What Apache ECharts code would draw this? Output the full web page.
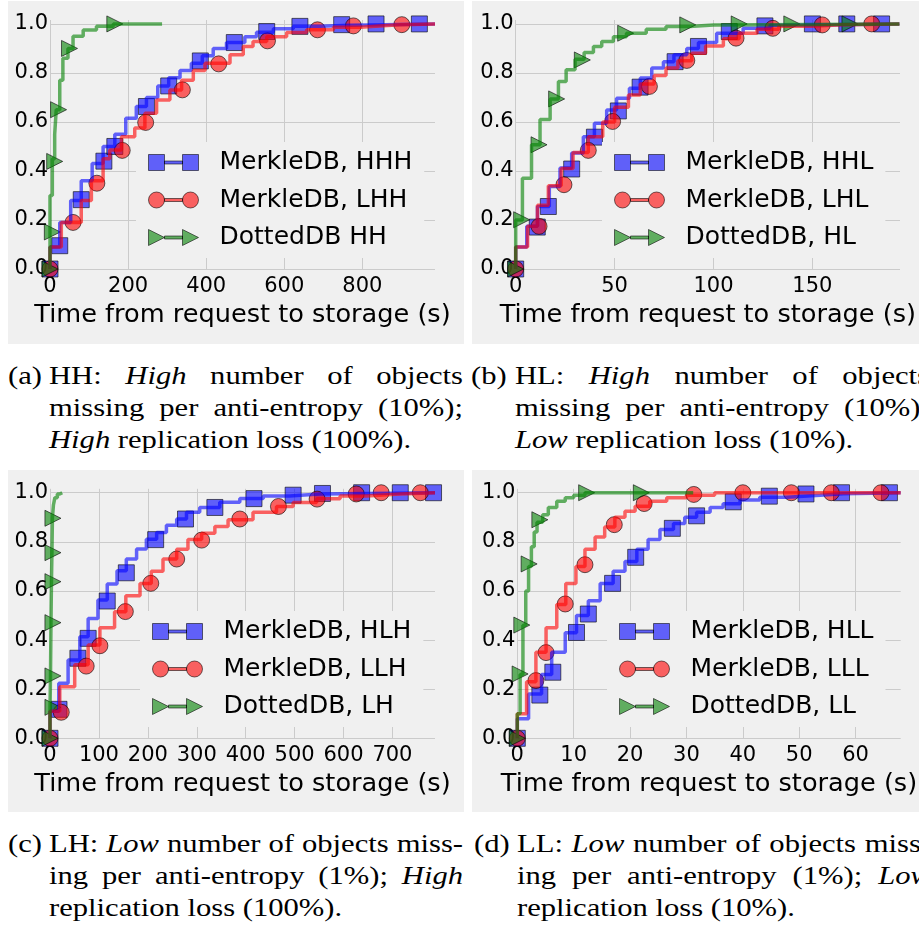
<!DOCTYPE html>
<html>
<head>
<meta charset="utf-8">
<script src="https://cdn.jsdelivr.net/npm/echarts@6/dist/echarts.min.js"></script>
<style>
  html, body { margin: 0; padding: 0; background: #fff; width: 919px; height: 936px; overflow: hidden; }
  body { position: relative; }
  .panel { position: absolute; background: #f0f0f0; width: 456px; }
  .cap { position: absolute; font-family: "Liberation Serif", serif; font-size: 25.5px; line-height: 32px; color: #000; }
  .cap .lab { position: absolute; left: 0; top: 0; white-space: nowrap; transform: scaleX(1.2); transform-origin: left top; }
  .cap .txt { position: absolute; top: 0; width: 345px; transform: scaleX(1.2); transform-origin: left top; }
  .cap .j { text-align: justify; text-align-last: justify; }
</style>
</head>
<body>
<div id="pa" class="panel" style="left:8px; top:1px; height:343px;"></div>
<div id="pb" class="panel" style="left:472px; top:1px; height:343px;"></div>
<div id="pc" class="panel" style="left:8px; top:470px; height:342px;"></div>
<div id="pd" class="panel" style="left:472px; top:470px; height:342px;"></div>

<div class="cap" style="left:8px; top:360px;">
  <div class="lab">(a)</div>
  <div class="txt" style="left:41px;">
    <div class="j">HH: <i>High</i> number of objects</div>
    <div class="j">missing per anti-entropy (10%);</div>
    <div><i>High</i> replication loss (100%).</div>
  </div>
</div>
<div class="cap" style="left:471px; top:360px;">
  <div class="lab">(b)</div>
  <div class="txt" style="left:44px;">
    <div class="j">HL: <i>High</i> number of objects</div>
    <div class="j">missing per anti-entropy (10%);</div>
    <div><i>Low</i> replication loss (10%).</div>
  </div>
</div>
<div class="cap" style="left:8px; top:828px;">
  <div class="lab">(c)</div>
  <div class="txt" style="left:41px;">
    <div class="j">LH: <i>Low</i> number of objects miss-</div>
    <div class="j">ing per anti-entropy (1%); <i>High</i></div>
    <div>replication loss (100%).</div>
  </div>
</div>
<div class="cap" style="left:474px; top:828px;">
  <div class="lab">(d)</div>
  <div class="txt" style="left:43px;">
    <div class="j">LL: <i>Low</i> number of objects miss-</div>
    <div class="j">ing per anti-entropy (1%); <i>Low</i></div>
    <div>replication loss (10%).</div>
  </div>
</div>

<script>
// ---- data: [time (s), cumulative fraction] ----
// (a) HH
const stepsHHH = [[0,0],[0,0.09],[25,0.19],[53,0.28],[80,0.36],[108,0.43],[136,0.50],[166,0.55],[194,0.615],[221,0.663],[247,0.70],[276,0.747],[304,0.78],[333,0.81],[362,0.84],[390,0.87],[418,0.90],[452,0.924],[499,0.948],[529,0.966],[572,0.98],[623,0.99],[691,0.995],[768,1.0],[986,1.0]];
const marksHHH = [[0,0],[25,0.095],[80,0.283],[138,0.44],[166,0.50],[247,0.663],[304,0.747],[385,0.849],[472,0.924],[555,0.969],[640,0.99],[747,0.997],[835,1.0],[946,1.0]];
const stepsLHH = [[0,0],[0,0.09],[29,0.19],[80,0.28],[106,0.36],[136,0.45],[153,0.486],[183,0.54],[217,0.575],[243,0.636],[273,0.69],[307,0.73],[337,0.77],[367,0.81],[397,0.84],[461,0.874],[495,0.908],[520,0.928],[555,0.948],[606,0.965],[657,0.976],[726,0.986],[794,0.993],[854,0.997],[897,1.0],[986,1.0]];
const marksLHH = [[0,0],[59,0.19],[120,0.35],[185,0.484],[245,0.598],[339,0.731],[432,0.837],[557,0.931],[685,0.976],[777,0.992],[901,0.997]];
const stepsDHH = [[0,0],[0,0.3],[6,0.45],[12,0.55],[16,0.65],[25,0.77],[33,0.86],[46,0.9],[59,0.95],[85,0.975],[119,0.99],[162,1.0],[287,1.0]];
const marksDHH = [[0,0],[6,0.151],[12,0.439],[22,0.65],[50,0.90],[166,1.0]];
// (b) HL
const stepsHHL = [[0,0],[0,0.09],[5.6,0.174],[11,0.255],[17,0.337],[22.4,0.412],[28.3,0.473],[34.2,0.54],[39.8,0.595],[46,0.649],[51,0.697],[57.5,0.738],[63,0.779],[68.8,0.82],[74.7,0.846],[80,0.874],[86.5,0.90],[92.4,0.924],[101.6,0.962],[115,0.982],[128.6,0.995],[140,1.0],[194,1.0]];
const marksHHL = [[0,0],[10.9,0.171],[16.5,0.255],[28.3,0.408],[39.8,0.538],[51.9,0.645],[62.9,0.742],[80.6,0.846],[92.4,0.908],[108,0.969],[126,0.992],[150,1],[167.4,1],[185,1]];
const stepsLHL = [[0,0],[0,0.09],[6,0.174],[11,0.26],[16.5,0.34],[23,0.41],[29,0.475],[36.7,0.54],[44,0.6],[50,0.66],[57,0.71],[63,0.755],[70,0.79],[76,0.82],[82,0.85],[89,0.88],[96,0.91],[105,0.94],[113,0.962],[122,0.978],[133,0.99],[150,0.997],[165,1.0],[194,1.0]];
const marksLHL = [[0,0],[11.8,0.174],[24.4,0.344],[36.7,0.484],[49,0.602],[67.6,0.745],[86.5,0.851],[111.4,0.942],[130,0.982],[155,0.996],[180,1]];
const stepsDHL = [[0,0],[0,0.2],[3.4,0.37],[8,0.507],[12.3,0.61],[17.4,0.694],[21.6,0.765],[25.5,0.8125],[30,0.856],[34.6,0.883],[39.3,0.908],[43.5,0.928],[49.4,0.948],[56,0.962],[66,0.978],[76,0.989],[88,0.996],[100,1.0],[194,1.0]];
const marksDHL = [[0,0],[3,0.201],[11.8,0.507],[20.7,0.694],[33.7,0.853],[55.6,0.962],[87,0.996],[113,1],[139.6,1],[169,1]];
// (c) LH
const stepsHLH = [[0,0],[0,0.11],[18,0.224],[37,0.319],[61,0.414],[78,0.488],[98,0.563],[117,0.628],[137,0.682],[156,0.73],[177,0.771],[197,0.811],[218,0.838],[238,0.868],[259,0.893],[279,0.92],[306,0.94],[347,0.961],[388,0.976],[436,0.987],[490,0.995],[551,1.0],[787,1.0]];
const marksHLH = [[0,0],[18.4,0.118],[57,0.326],[78,0.407],[117,0.559],[156,0.674],[216,0.809],[277,0.893],[337,0.94],[417,0.976],[497,0.99],[557,0.997],[637,1],[716,1],[784,1]];
const stepsLLH = [[0,0],[0,0.11],[20,0.21],[50.5,0.3],[78,0.38],[102,0.45],[132,0.515],[155,0.58],[184,0.63],[207,0.68],[231,0.73],[259,0.77],[282,0.81],[310,0.835],[337,0.862],[364,0.89],[415,0.92],[463,0.944],[497,0.96],[545,0.975],[593,0.987],[647,0.995],[716,1.0],[787,1.0]];
const marksLLH = [[0,0],[23,0.106],[74,0.294],[102,0.377],[154,0.516],[206,0.631],[259,0.73],[310,0.807],[388,0.893],[467,0.944],[546,0.974],[626,0.995],[677,1],[757,1]];
const stepsDLH = [[0,0],[0,0.12],[1,0.25],[2,0.47],[3,0.64],[4,0.76],[5,0.9],[7,0.95],[10,0.98],[15,0.995],[20,1.0],[25,1.0]];
const marksDLH = [[0,0],[6,0.126],[6,0.254],[6,0.471],[6,0.638],[6,0.756],[6,0.896]];
// (d) LL
const stepsHLL = [[0,0],[0,0.08],[2,0.18],[4.3,0.26],[6.1,0.35],[8.5,0.43],[10.5,0.5],[12.6,0.56],[14.7,0.63],[17,0.68],[19.1,0.72],[21.2,0.77],[23.2,0.81],[25.3,0.85],[27.7,0.875],[29.7,0.9],[31.8,0.92],[34.2,0.94],[36.5,0.955],[39.5,0.97],[43,0.982],[47.8,0.99],[53.7,0.996],[57.8,1.0],[68,1.0]];
const marksHLL = [[0,0],[4,0.176],[6.3,0.269],[10.5,0.431],[12.6,0.506],[16.9,0.631],[21,0.737],[27.5,0.855],[31.8,0.906],[38.3,0.963],[44.7,0.986],[51.2,0.995],[57.5,1],[66,1]];
const stepsLLL = [[0,0],[0,0.1],[1.65,0.23],[3.3,0.35],[5.1,0.45],[7,0.545],[8.6,0.63],[10.4,0.7],[12,0.77],[13.8,0.82],[15.5,0.86],[17.3,0.9],[19.1,0.925],[20.9,0.945],[23.5,0.965],[26.5,0.98],[30,0.99],[35,1.0],[68,1.0]];
const marksLLL = [[0,0],[3.3,0.235],[5.1,0.349],[8.5,0.547],[12,0.707],[17.2,0.87],[22.5,0.956],[31.3,0.993],[40,1],[48.6,1],[55.7,1],[64.5,1]];
const stepsDLL = [[0,0],[0,0.1],[0.5,0.26],[1,0.46],[1.5,0.6],[2,0.7],[2.5,0.78],[3,0.84],[3.5,0.88],[4.5,0.91],[5.5,0.94],[7,0.965],[8.5,0.98],[10,0.99],[12,1.0],[31.2,1.0]];
const marksDLL = [[0,0],[0.5,0.262],[0.8,0.461],[2.1,0.71],[4,0.89],[12.3,1],[22,1]];

const namesA = ['MerkleDB, HHH', 'MerkleDB, LHH', 'DottedDB HH'];
const namesB = ['MerkleDB, HHL', 'MerkleDB, LHL', 'DottedDB, HL'];
const namesC = ['MerkleDB, HLH', 'MerkleDB, LLH', 'DottedDB, LH'];
const namesD = ['MerkleDB, HLL', 'MerkleDB, LLL', 'DottedDB, LL'];

const xLabel = 'Time from request to storage (s)';
const FONT = 'DejaVu Sans';

// one style per curve slot: blue squares, red circles, green triangles
const looks = [
  { color: '#0000ff', fill: 'rgba(0,0,255,0.6)', symbol: 'rect', rotate: 0,
    icon: 'path://M0,0H16V16H0Z M16,6.5H34V9.5H16Z M34,0H50V16H34Z' },
  { color: '#ff0000', fill: 'rgba(255,0,0,0.6)', symbol: 'circle', rotate: 0,
    icon: 'path://M0,8A8,8,0,1,1,16,8A8,8,0,1,1,0,8Z M16,6.5H34V9.5H16Z M34,8A8,8,0,1,1,50,8A8,8,0,1,1,34,8Z' },
  { color: '#008000', fill: 'rgba(0,128,0,0.6)', symbol: 'triangle', rotate: -90,
    icon: 'path://M0,0L16,8L0,16Z M16,6.5H34V9.5H16Z M34,0L50,8L34,16Z' }
];

function onTick(v, step) {
  const k = v / step;
  return Math.abs(k - Math.round(k)) < 1e-6;
}

function drawPanel(id, names, curves, xMax, xStep, grid, legendPos) {
  const series = [];
  curves.forEach(function (c, i) {
    const lk = looks[i];
    series.push({
      name: names[i], type: 'line', step: 'end', data: c[0],
      symbol: 'none', showSymbol: false, silent: true,
      lineStyle: { color: lk.color, width: 3.5, opacity: 0.6 },
      itemStyle: { color: lk.color }
    });
    series.push({
      name: names[i], type: 'scatter', data: c[1], clip: false, silent: true,
      symbol: lk.symbol, symbolRotate: lk.rotate, symbolSize: 16,
      itemStyle: { color: lk.color, opacity: 0.6, borderColor: '#000', borderWidth: 1 }
    });
  });

  const chart = echarts.init(document.getElementById(id), null, { renderer: 'canvas' });
  chart.setOption({
    animation: false,
    grid: Object.assign({ outerBoundsMode: 'none', containLabel: false }, grid),
    legend: {
      orient: 'vertical', left: legendPos[0], top: legendPos[1],
      padding: [8, 12, 8, 12], itemGap: 12.5, itemWidth: 50, itemHeight: 17,
      backgroundColor: '#f0f0f0', selectedMode: false,
      textStyle: { fontFamily: FONT, fontSize: 25, color: '#000', lineHeight: 25, padding: [0, 0, 0, 16] },
      data: names.map(function (n, i) {
        return { name: n, icon: looks[i].icon,
          itemStyle: { color: looks[i].fill, borderColor: 'rgba(0,0,0,0.55)', borderWidth: 1 } };
      })
    },
    xAxis: {
      type: 'value', min: 0, max: xMax, interval: xStep,
      name: xLabel, nameLocation: 'middle', nameGap: 30,
      nameTextStyle: { fontFamily: FONT, fontSize: 25.6, color: '#000' },
      axisLine: { show: false }, axisTick: { show: false },
      splitLine: { show: true, showMaxLine: false, lineStyle: { color: '#cbcbcb', width: 1 } },
      axisLabel: { fontFamily: FONT, fontSize: 21, color: '#000', margin: 7,
        formatter: function (v) { return onTick(v, xStep) ? String(v) : ''; } }
    },
    yAxis: {
      type: 'value', min: 0, max: 1.016, interval: 0.2,
      axisLine: { show: false }, axisTick: { show: false },
      splitLine: { show: true, showMaxLine: false, lineStyle: { color: '#cbcbcb', width: 1 } },
      axisLabel: { fontFamily: FONT, fontSize: 21, color: '#000', margin: 2,
        formatter: function (v) { return onTick(v, 0.2) ? v.toFixed(1) : ''; } }
    },
    series: series
  });
}

drawPanel('pa', namesA, [[stepsHHH, marksHHH], [stepsLHH, marksLHH], [stepsDHH, marksDHH]],
  986, 200, { left: 42, right: 29, top: 19, bottom: 75 }, [128, 141]);
drawPanel('pb', namesB, [[stepsHHL, marksHHL], [stepsLHL, marksLHL], [stepsDHL, marksDHL]],
  194.3, 50, { left: 43.7, right: 28, top: 19, bottom: 75 }, [130, 141]);
drawPanel('pc', namesC, [[stepsHLH, marksHLH], [stepsLLH, marksLLH], [stepsDLH, marksDLH]],
  787, 100, { left: 42, right: 29, top: 18.8, bottom: 73.7 }, [132, 141]);
drawPanel('pd', namesD, [[stepsHLL, marksHLL], [stepsLLL, marksLLL], [stepsDLL, marksDLL]],
  68, 10, { left: 45.3, right: 27.3, top: 18.8, bottom: 73.7 }, [135, 141]);
</script>
</body>
</html>
